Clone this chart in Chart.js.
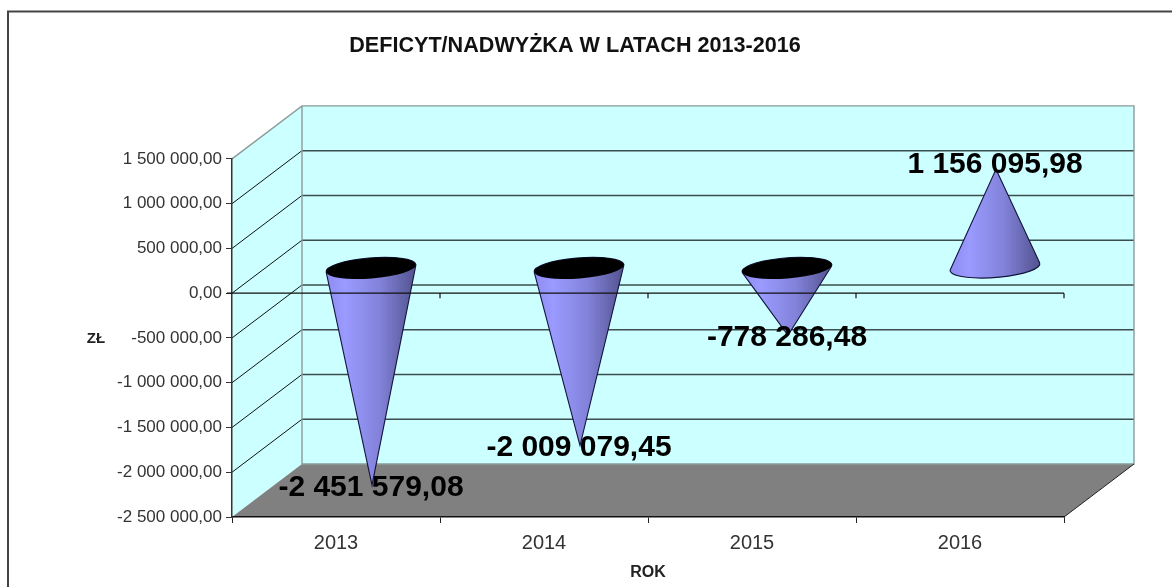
<!DOCTYPE html>
<html>
<head>
<meta charset="utf-8">
<style>html,body{margin:0;padding:0;background:#fff}canvas{display:block}</style>
<script src="https://cdn.jsdelivr.net/npm/chart.js@4"></script>
</head>
<body>
<canvas id="c" width="1172" height="587" style="width:1172px;height:587px"></canvas>
<script>
const categories = ['2013', '2014', '2015', '2016'];
const seriesValues = [-2451579.08, -2009079.45, -778286.48, 1156095.98];
const chartTitle = 'DEFICYT/NADWYŻKA W LATACH 2013-2016';
const xAxisTitle = 'ROK';
const yAxisTitle = 'ZŁ';
const FONT = '"Liberation Sans", Arial, sans-serif';
const DX = 70, DY = -53;

function plFormat(v, dec) {
  const s = Math.abs(v).toFixed(dec).split('.');
  const int = s[0].replace(/\B(?=(\d{3})+(?!\d))/g, ' ');
  return (v < 0 ? '-' : '') + int + ',' + s[1];
}

const walls = {
  id: 'walls',
  afterLayout(chart) {
    chart.titleBlock.right = 1150;
  },
  beforeDraw(chart) {
    const {ctx, chartArea: a, scales: {y}} = chart;
    ctx.save();
    ctx.fillStyle = '#fff';
    ctx.fillRect(0, 0, chart.width, chart.height);
    // outer frame
    ctx.strokeStyle = '#444';
    ctx.lineWidth = 2;
    ctx.beginPath();
    ctx.moveTo(8, chart.height);
    ctx.lineTo(8, 11.5);
    ctx.lineTo(chart.width, 11.5);
    ctx.stroke();
    // back and side walls
    ctx.fillStyle = '#ccffff';
    ctx.fillRect(a.left + DX, a.top + DY, a.width, a.height);
    ctx.beginPath();
    ctx.moveTo(a.left, a.top);
    ctx.lineTo(a.left + DX, a.top + DY);
    ctx.lineTo(a.left + DX, a.bottom + DY);
    ctx.lineTo(a.left, a.bottom);
    ctx.closePath();
    ctx.fill();
    // floor
    ctx.fillStyle = '#808080';
    ctx.beginPath();
    ctx.moveTo(a.left, a.bottom);
    ctx.lineTo(a.right, a.bottom);
    ctx.lineTo(a.right + DX, a.bottom + DY);
    ctx.lineTo(a.left + DX, a.bottom + DY);
    ctx.closePath();
    ctx.fill();
    // gridlines on walls
    y.ticks.forEach(t => {
      const py = y.getPixelForValue(t.value);
      if (t.value === y.min || t.value === y.max) return;
      ctx.strokeStyle = '#111';
      ctx.lineWidth = 1;
      ctx.beginPath();
      ctx.moveTo(a.left, py);
      ctx.lineTo(a.left + DX, py + DY);
      ctx.stroke();
      ctx.strokeStyle = '#3d4c4c';
      ctx.lineWidth = 1.6;
      ctx.beginPath();
      ctx.moveTo(a.left + DX, py + DY);
      ctx.lineTo(a.right + DX, py + DY);
      ctx.stroke();
    });
    // wall borders
    ctx.strokeStyle = '#8c9a9a';
    ctx.lineWidth = 1.4;
    ctx.beginPath();
    ctx.moveTo(a.left, a.top);
    ctx.lineTo(a.left + DX, a.top + DY);
    ctx.lineTo(a.right + DX, a.top + DY);
    ctx.lineTo(a.right + DX, a.bottom + DY);
    ctx.lineTo(a.left + DX, a.bottom + DY);
    ctx.lineTo(a.left + DX, a.top + DY);
    ctx.stroke();
    // right floor edge
    ctx.strokeStyle = '#222';
    ctx.lineWidth = 1;
    ctx.beginPath();
    ctx.moveTo(a.right, a.bottom);
    ctx.lineTo(a.right + DX, a.bottom + DY);
    ctx.stroke();
    ctx.restore();
  },
  afterDatasetsDraw(chart) {
    const {ctx, chartArea: a, scales: {x, y}} = chart;
    const meta = chart.getDatasetMeta(0);
    const rx = 45, ry = 10.3, rot = -4.5 * Math.PI / 180;
    ctx.save();
    meta.data.forEach((el, i) => {
      const cx = el.x + DX / 2, cy = el.base + DY / 2 + 1;
      const tx = el.x + DX / 2 + 1, ty = el.y + DY / 2 + (seriesValues[i] > 0 ? 6 : -1);
      const g = ctx.createLinearGradient(cx - rx, 0, cx + rx, 0);
      g.addColorStop(0, '#8c8cf2');
      g.addColorStop(0.22, '#9a9aff');
      g.addColorStop(0.6, '#8282da');
      g.addColorStop(1, '#52528e');
      const cos = Math.cos(-rot), sin = Math.sin(-rot);
      const lx = (tx - cx) * cos - (ty - cy) * sin;
      const ly = (tx - cx) * sin + (ty - cy) * cos;
      const px = lx / rx, py = ly / ry;
      const d = Math.hypot(px, py), phi = Math.atan2(py, px), al = Math.acos(1 / d);
      ctx.beginPath();
      ctx.moveTo(tx, ty);
      ctx.ellipse(cx, cy, rx, ry, rot, phi + al, phi - al + 2 * Math.PI, false);
      ctx.closePath();
      ctx.fillStyle = g;
      ctx.fill();
      ctx.strokeStyle = '#14143c';
      ctx.lineWidth = 1.1;
      ctx.stroke();
      if (seriesValues[i] < 0) {
        ctx.beginPath();
        ctx.ellipse(cx, cy, rx, ry, rot, 0, 2 * Math.PI);
        ctx.fillStyle = '#000';
        ctx.fill();
      }
    });
    // axis line at zero, with its ticks
    const zero = y.getPixelForValue(0);
    ctx.strokeStyle = '#111';
    ctx.lineWidth = 1.2;
    ctx.beginPath();
    ctx.moveTo(a.left - 5, zero);
    ctx.lineTo(a.right, zero);
    for (let i = 1; i <= categories.length; i++) {
      const tickX = x.getPixelForValue(i - 0.5);
      ctx.moveTo(tickX, zero);
      ctx.lineTo(tickX, zero + 5);
    }
    ctx.stroke();
    // data labels
    ctx.fillStyle = '#000';
    ctx.font = 'bold 30px ' + FONT;
    ctx.textAlign = 'center';
    ctx.textBaseline = 'middle';
    meta.data.forEach((el, i) => {
      ctx.fillText(plFormat(seriesValues[i], 2), el.x + DX / 2, el.y + DY / 2 + 1.5);
    });
    // vertical axis caption, drawn upright
    ctx.fillStyle = '#222';
    ctx.font = 'bold 15px ' + FONT;
    ctx.fillText(yAxisTitle, 96, y.getPixelForValue(-500000) + 1);
    ctx.restore();
  }
};

new Chart(document.getElementById('c'), {
  type: 'bar',
  data: {
    labels: categories,
    datasets: [{data: seriesValues, backgroundColor: 'rgba(0,0,0,0)', borderWidth: 0}]
  },
  plugins: [walls],
  options: {
    responsive: false,
    animation: false,
    layout: {padding: {left: 0, right: 108, top: 0, bottom: 0}},
    plugins: {
      legend: {display: false},
      tooltip: {enabled: false},
      title: {
        display: true,
        text: chartTitle,
        color: '#111',
        font: {family: FONT, size: 21.6, weight: 'bold', lineHeight: 1.2},
        padding: {top: 33, bottom: 100}
      }
    },
    scales: {
      x: {
        type: 'category',
        afterFit(s) { s.height = 70; },
        grid: {drawOnChartArea: false, drawTicks: true, tickLength: 6, color: '#222'},
        border: {display: true, color: '#111', width: 1.5},
        ticks: {color: '#333', padding: 8, font: {family: FONT, size: 20}, maxRotation: 0},
        title: {
          display: true,
          text: xAxisTitle,
          color: '#222',
          font: {family: FONT, size: 16, weight: 'bold'},
          padding: {top: 0, bottom: 5}
        }
      },
      y: {
        type: 'linear',
        min: -2500000,
        max: 1500000,
        afterFit(s) { s.width = 232; },
        grid: {drawOnChartArea: false, drawTicks: true, tickLength: 6, color: '#333'},
        border: {display: true, color: '#333', width: 1.5},
        ticks: {
          stepSize: 500000,
          color: '#333',
          padding: 4,
          font: {family: FONT, size: 17},
          callback: v => plFormat(v, 2)
        }
      }
    }
  }
});
</script>
</body>
</html>
